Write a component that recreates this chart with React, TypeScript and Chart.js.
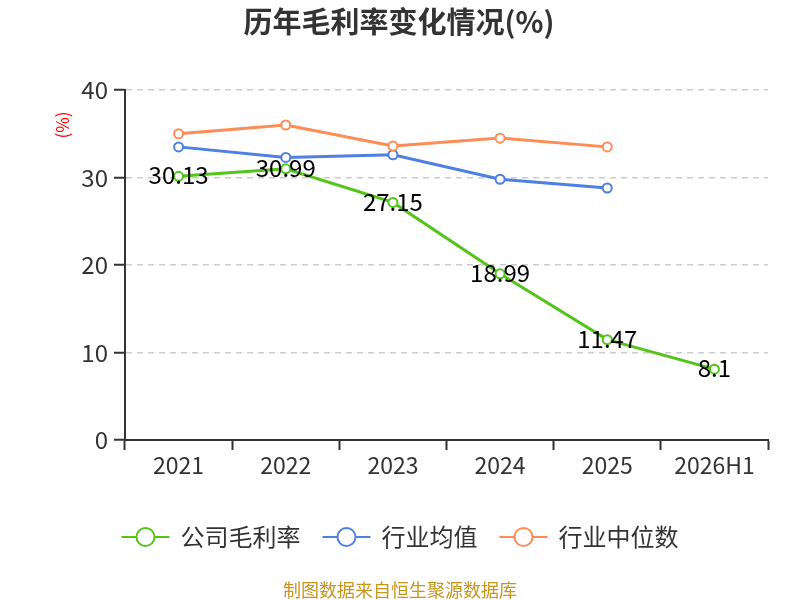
import { useEffect, useRef } from "react"
import { Chart, registerables } from "chart.js"

Chart.register(...registerables)

const years = ["2021", "2022", "2023", "2024", "2025", "2026H1"]
const companyMargin = [30.13, 30.99, 27.15, 18.99, 11.47, 8.1]
const industryAvg = [33.5, 32.3, 32.6, 29.8, 28.8, null]
const industryMedian = [35.0, 36.0, 33.6, 34.5, 33.5, null]
const seriesNames = ["公司毛利率", "行业均值", "行业中位数"]
const seriesColors = ["#52c41a", "#4e7fe2", "#ff8c55"]
const yTicks = [0, 10, 20, 30, 40]

const FONT = '"Noto Sans CJK SC", "Noto Sans", sans-serif'

// title, unit, value labels, legend and footer are drawn here
const decorPlugin = {
  id: "decor",
  afterDraw(chart: Chart) {
    const ctx = chart.ctx
    ctx.save()

    ctx.fillStyle = "#333"
    ctx.font = `bold 29px ${FONT}`
    ctx.textAlign = "center"
    ctx.textBaseline = "middle"
    ctx.fillText("历年毛利率变化情况(%)", 399, 22)

    ctx.save()
    ctx.translate(63, 125)
    ctx.rotate(-Math.PI / 2)
    ctx.fillStyle = "#ff0000"
    ctx.font = `17px ${FONT}`
    ctx.fillText("(%)", 0, 0)
    ctx.restore()

    // value labels on the company series
    const meta = chart.getDatasetMeta(0)
    ctx.fillStyle = "#000"
    ctx.font = `24px ${FONT}`
    meta.data.forEach((pt, i) => {
      ctx.fillText(String(companyMargin[i]), pt.x, pt.y - 1)
    })

    // legend
    ctx.font = `24px ${FONT}`
    const lineW = 48
    const gapText = 11
    const gapItem = 22
    const widths = seriesNames.map((n) => ctx.measureText(n).width)
    const total = widths.reduce((a, w) => a + lineW + gapText + w, 0) + gapItem * (seriesNames.length - 1)
    let x = 400 - total / 2
    const ly = 537
    seriesNames.forEach((name, i) => {
      ctx.strokeStyle = seriesColors[i]
      ctx.lineWidth = 2
      ctx.beginPath()
      ctx.moveTo(x, ly)
      ctx.lineTo(x + lineW, ly)
      ctx.stroke()
      ctx.beginPath()
      ctx.arc(x + lineW / 2, ly, 9, 0, Math.PI * 2)
      ctx.fillStyle = "#fff"
      ctx.fill()
      ctx.stroke()
      ctx.fillStyle = "#333"
      ctx.textAlign = "left"
      ctx.fillText(name, x + lineW + gapText, ly)
      x += lineW + gapText + widths[i] + gapItem
    })

    ctx.fillStyle = "#c8961e"
    ctx.font = `18px ${FONT}`
    ctx.textAlign = "center"
    ctx.fillText("制图数据来自恒生聚源数据库", 400, 590)

    ctx.restore()
  },
}

function MarginChart() {
  const chartRef = useRef<HTMLCanvasElement>(null)
  const chartInstance = useRef<Chart | null>(null)

  useEffect(() => {
    if (!chartRef.current) return
    if (chartInstance.current) chartInstance.current.destroy()
    const ctx = chartRef.current.getContext("2d")
    if (!ctx) return

    const series = [companyMargin, industryAvg, industryMedian]

    chartInstance.current = new Chart(ctx, {
      type: "line",
      data: {
        labels: years,
        datasets: series.map((d, i) => ({
          label: seriesNames[i],
          data: d,
          borderColor: seriesColors[i],
          backgroundColor: "#fff",
          borderWidth: 3,
          pointRadius: 4.5,
          pointBorderWidth: 2,
          pointBackgroundColor: "#fff",
          pointBorderColor: seriesColors[i],
          tension: 0,
          order: 3 - i,
        })),
      },
      options: {
        responsive: false,
        animation: false,
        layout: { padding: { top: 90, right: 32, bottom: 0, left: 0 } },
        plugins: {
          legend: { display: false },
          title: { display: false },
          tooltip: { enabled: false },
        },
        scales: {
          x: {
            offset: true,
            grid: {
              offset: true,
              drawOnChartArea: false,
              drawTicks: true,
              tickLength: 10,
              tickColor: "#333",
              tickWidth: 2,
            },
            border: { color: "#333", width: 2 },
            ticks: { color: "#333", font: { size: 23, family: FONT }, padding: 1 },
            afterFit: (s: any) => {
              s.height = 160
              s.paddingLeft = 0
              s.paddingRight = 0
            },
          },
          y: {
            min: 0,
            max: 40,
            afterBuildTicks: (s: any) => {
              s.ticks = yTicks.map((v) => ({ value: v }))
            },
            grid: {
              color: "#cccccc",
              lineWidth: 1.5,
              tickColor: "#333",
              tickWidth: 2,
              tickLength: 11,
              drawTicks: true,
            },
            border: { color: "#333", width: 2, dash: [6, 5], dashOffset: 0 },
            ticks: { color: "#333", font: { size: 24, family: FONT }, padding: 6 },
            afterFit: (s: any) => {
              s.width = 125
              s.paddingTop = 0
              s.paddingBottom = 0
            },
          },
        },
      },
      plugins: [decorPlugin],
    })

    return () => {
      if (chartInstance.current) chartInstance.current.destroy()
    }
  }, [])

  return <canvas ref={chartRef} width={800} height={600} style={{ display: "block" }}></canvas>
}

export default function App() {
  useEffect(() => {
    document.body.style.margin = "0"
  }, [])
  return (
    <div style={{ width: 800, height: 600, background: "#fff" }}>
      <MarginChart />
    </div>
  )
}
